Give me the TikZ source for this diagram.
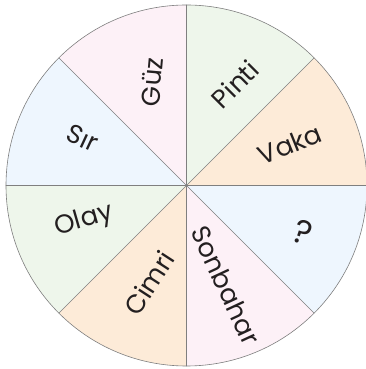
\documentclass[tikz,border=0pt]{standalone}
\usepackage{fontspec}
\setmainfont{Poppins}
\definecolor{wpink}{HTML}{FDF1F7}
\definecolor{wgreen}{HTML}{EEF6EB}
\definecolor{worange}{HTML}{FDEBD8}
\definecolor{wblue}{HTML}{EEF6FE}
\definecolor{wline}{HTML}{7F7F7F}
\definecolor{wtext}{HTML}{231F20}
\begin{document}
\begin{tikzpicture}[x=1pt, y=1pt, line cap=round, line join=round]
	\tikzset{word/.style={font=\fontsize{26}{26}\selectfont, text=wtext, inner sep=0pt}}
	\useasboundingbox (0,0) rectangle (366,369);
	\coordinate (O) at (186.5,183.5);
	% sectors
	\foreach \a/\c in {0/worange, 45/wgreen, 90/wpink, 135/wblue, 180/wgreen, 225/worange, 270/wpink, 315/wblue}
		\fill[\c] (O) -- ++(\a:180.5) arc[start angle=\a, delta angle=45, radius=180.5] -- cycle;
	\foreach \a in {0,45,...,315}
		\draw[wline, line width=0.6pt] (O) -- ++(\a:180.5);
	\draw[wline, line width=0.6pt] (O) circle (180.5);
	% words
	\node[word, rotate=85] (guz) at (152,287) {Güz};
	\node[word, rotate=45] (pinti) at (235,285) {Pinti};
	\node[word, rotate=22] (vaka) at (290,225) {Vaka};
	\node[word, rotate=-20, scale=1.3] (soru) at (303,137) {?};
	\node[word, rotate=-65] (sonbahar) at (226,84) {Sonbahar};
	\node[word, rotate=57] (cimri) at (149,86) {Cimri};
	\node[word, rotate=16] (olay) at (84,148) {Olay};
	\node[word, rotate=-25] (sir) at (83,231) {Sır};
\end{tikzpicture}
\end{document}
